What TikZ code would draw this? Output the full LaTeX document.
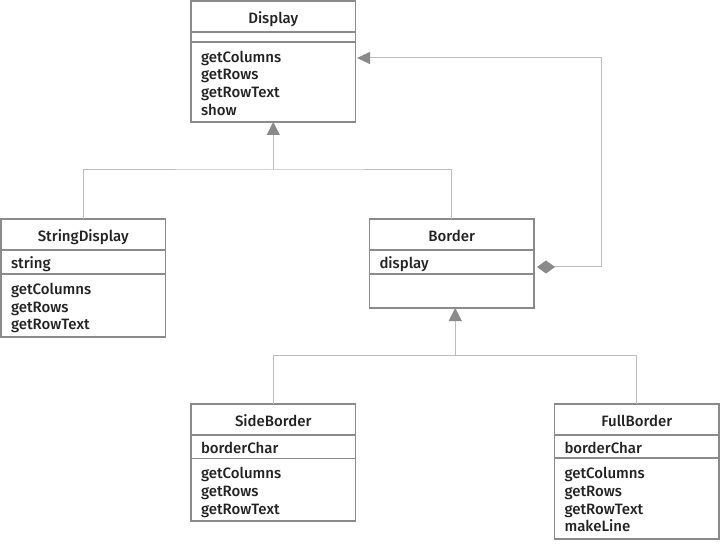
\documentclass[tikz,border=0pt]{standalone}
\usepackage{fontspec}
\setmainfont{Fira Sans Medium}
\usetikzlibrary{positioning,arrows.meta,calc}
\definecolor{boxgray}{HTML}{8A8A8A}
\definecolor{linegray}{HTML}{BDBDBD}
\definecolor{tipgray}{HTML}{8A8A8A}
\definecolor{inkgray}{HTML}{222222}
\newcommand{\rowstrut}{\rule[-3pt]{0pt}{19.5pt}}
\newcommand{\lowstrut}{\rule[-3pt]{0pt}{3pt}}
\tikzset{
  part/.style={draw=boxgray, line width=1.2pt, minimum width=164.5pt, text width=144.5pt,
    inner xsep=10pt, inner ysep=0pt, outer sep=0pt, align=left, text=inkgray,
    font=\fontsize{15}{17.8}\selectfont},
  txt/.style={part, execute at begin node=\rowstrut, execute at end node=\lowstrut},
  head/.style={txt, align=center, minimum height=31pt},
  link/.style={draw=linegray, line width=1pt},
  isa/.style={link, -{Triangle[length=13pt,width=13pt,color=tipgray]}},
  has/.style={link, {Diamond[length=18pt,width=13pt,color=tipgray]}-{Triangle[length=13pt,width=12pt,color=tipgray]}},
}

\begin{document}
\begin{tikzpicture}[x=1pt, y=-1pt]
\useasboundingbox (0,0) rectangle (720,545);
% Display
\node[head, anchor=north west] (dsp) at (191,1) {Display};
\node[part, minimum height=10pt, below=0pt of dsp] (dsp-attr) {};
\node[txt, minimum height=80pt, below=0pt of dsp-attr] (dsp-ops) {getColumns\\getRows\\getRowText\\show};
% StringDisplay
\node[head, anchor=north west] (sdsp) at (1,219) {StringDisplay};
\node[txt, minimum height=24pt, below=0pt of sdsp] (sdsp-attr) {string};
\node[txt, minimum height=63pt, below=0pt of sdsp-attr] (sdsp-ops) {getColumns\\getRows\\getRowText};
% Border
\node[head, anchor=north west] (bdr) at (369.5,219) {Border};
\node[txt, minimum height=24pt, below=0pt of bdr] (bdr-attr) {display};
\node[part, minimum height=34pt, below=0pt of bdr-attr] (bdr-ops) {};
% SideBorder
\node[head, anchor=north west] (sbdr) at (191,404) {SideBorder};
\node[txt, minimum height=23.5pt, below=0pt of sbdr] (sbdr-attr) {borderChar};
\node[txt, minimum height=62.5pt, below=0pt of sbdr-attr] (sbdr-ops) {getColumns\\getRows\\getRowText};
% FullBorder
\node[head, anchor=north west] (fbdr) at (554.5,404) {FullBorder};
\node[txt, minimum height=23pt, below=0pt of fbdr] (fbdr-attr) {borderChar};
\node[txt, minimum height=81pt, below=0pt of fbdr-attr] (fbdr-ops) {getColumns\\getRows\\getRowText\\makeLine};

% generalisation
\coordinate (top-fork) at ($(dsp-ops.south)+(0,48)$);
\draw[link] (sdsp.north) |- (top-fork) -| (bdr.north);
\draw[isa] (top-fork) -- (dsp-ops.south);
\coordinate (low-fork) at ($(bdr-ops.south)+(3.5,47.5)$);
\draw[link] (sbdr.north) |- (low-fork) -| (fbdr.north);
\draw[isa] (low-fork) -- (low-fork |- bdr-ops.south);

% composition
\draw[has] ($(bdr-attr.east)+(3,5)$) -- ++(64,0) |- ($(dsp-ops.north east)+(1.5,16)$);
\end{tikzpicture}
\end{document}
